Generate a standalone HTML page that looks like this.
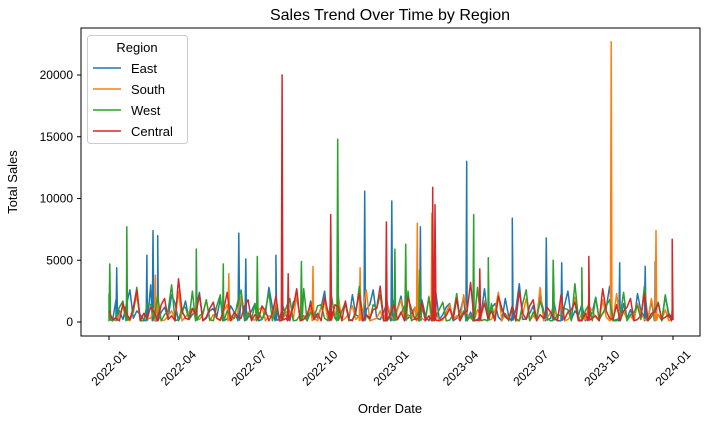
<!DOCTYPE html>
<html><head><meta charset="utf-8"><style>
body{margin:0;background:#fff;}
svg{display:block;font-family:"Liberation Sans","DejaVu Sans",sans-serif;}
</style></head><body>
<svg id="chart" width="722" height="421" xmlns="http://www.w3.org/2000/svg">
<rect width="722" height="421" fill="#fff"/>
<text x="390" y="20" text-anchor="middle" font-size="16">Sales Trend Over Time by Region</text>
<g id="plot"></g>
<rect x="81" y="28" width="619" height="308" fill="none" stroke="#000" stroke-width="1"/>
<g id="xaxis"></g>
<g id="yaxis"></g>
<text x="390" y="413" text-anchor="middle" font-size="13">Order Date</text>
<text x="17" y="182" text-anchor="middle" font-size="13" transform="rotate(-90 17 182)">Total Sales</text>
<g id="legend"></g>
</svg>
<script>
const seriesNames = ["East","South","West","Central"];
const seriesColors = ["#1f77b4","#ff7f0e","#2ca02c","#d62728"];
const baseStep = 9;
const eastBase = [300,1800,200,2600,900,150,3000,400,1200,2200,100,1700,600,2400,300,1100,1900,250,800,2100,400,1500,200,2800,700,1300,100,2000,500,1700,300,2500,900,150,1400,2200,400,1000,2600,200,1600,700,2100,300,1200,1800,100,2400,600,1500,300,2000,800,200,2700,1100,400,1900,700,3100,250,1300,2200,500,1600,100,2500,900,1400,300,2000,700,2900,200,1500,1000,2300,400,1700,600,2100,300];
const eastMid = [100,900,1400,300,600,2000,100,800,300,1500,700,200,1100,100,900,400,100,1300,200,600,900,100,700,1200,200,500,1600,300,100,800,1200,100,400,900,200,600,100,1400,300,800,100,1100,200,700,100,500,900,200,1200,100,800,300,100,600,200,1500,100,400,1000,200,700,100,900,300,100,1300,200,500,100,800,200,1100,100,600,300,100,900,200,500,100,700];
const southBase = [500,200,1200,100,2200,700,300,1500,150,900,2500,400,1100,200,1800,600,100,1400,300,2000,800,150,1200,500,1700,250,900,2300,400,1100,100,1600,700,2000,300,1300,500,2600,200,900,1500,100,1800,600,1200,300,2100,800,150,1400,500,2200,300,1000,1700,200,2400,700,1300,100,1900,500,2800,300,1100,1600,200,2000,700,1300,400,1800,100,2300,900,500,1500,200,1900,600,1000,300];
const southMid = [100,600,200,900,100,300,1100,100,500,200,100,800,200,600,100,300,900,100,700,100,200,1000,100,400,100,800,200,100,600,300,1200,100,400,100,700,200,900,100,300,100,600,1000,100,200,500,100,300,100,800,200,100,700,100,400,200,900,100,300,100,600,100,200,100,800,300,100,500,100,200,900,100,400,100,300,200,100,700,100,300,200,100];
const westBase = [2300,400,1700,300,2800,100,1400,2100,600,3000,200,1200,2500,500,1800,100,2200,900,300,2600,700,1500,200,2400,1100,400,1900,150,2700,800,1300,300,2100,600,1600,200,2900,500,1400,2200,100,1800,700,2500,300,1200,2000,400,1600,150,2300,900,500,2800,200,1500,2100,600,1300,100,2600,800,1700,300,2200,500,1000,3100,200,1400,2000,700,1800,100,2400,600,1300,2900,400,1600,2200,300];
const westMid = [100,1200,200,800,100,1500,300,100,900,100,1100,200,100,700,200,1300,100,500,1600,100,200,800,1000,100,300,1200,100,600,100,400,1400,100,300,900,100,700,100,200,1100,100,500,200,1300,100,800,200,100,1000,100,600,200,100,1200,100,400,200,900,100,300,1500,100,200,800,100,600,1100,100,300,900,100,200,1300,100,500,100,800,200,100,1000,100,400];
const centralBase = [900,300,1500,200,2600,700,1200,100,1900,500,3500,300,1100,2200,400,1600,150,2400,800,300,1800,600,1300,100,2100,900,400,2700,200,1500,700,2000,300,1200,1700,100,2300,600,1000,2900,300,1400,800,2000,200,1600,500,2400,300,1100,1900,700,3200,150,1500,900,2100,400,1300,2500,200,1800,600,1200,300,2200,800,1600,100,2000,500,2700,300,1400,900,1900,200,2300,700,1500,400,1100];
const centralMid = [200,100,700,1200,100,300,800,1400,200,100,900,200,600,100,1100,300,1000,100,400,1300,100,200,900,700,100,300,1200,100,600,200,100,800,1400,100,200,900,100,300,1100,100,700,200,100,1000,300,100,1200,100,500,200,100,900,100,600,300,100,1100,200,100,700,1300,100,300,800,100,200,1000,100,700,300,100,900,200,100,1200,100,500,100,800,200,600];
const eastSpikeDays = [10,49,57,63,168,177,216,331,366,403,463,522,566,586,661,694,707];
const eastSpikeVals = [4400,5400,7400,7000,7200,5100,5400,10600,9800,7700,13000,8400,6800,4800,4800,4500,4900];
const southSpikeDays = [60,155,264,325,399,418,650,708];
const southSpikeVals = [3800,3900,4500,4400,8000,8800,22700,7400];
const westSpikeDays = [1,23,113,148,192,249,296,370,384,402,472,491,575,612];
const westSpikeVals = [4700,7700,5900,4700,5300,4900,14800,5900,6300,4200,8700,5200,5000,4400];
const centralSpikeDays = [224,232,287,359,419,422,480,621,729];
const centralSpikeVals = [20000,3900,8700,8100,10900,9500,4300,5300,6700];
const yTicks = [0,5000,10000,15000,20000];
const xTickDays = [0,90,181,273,365,455,546,638,730];
const xTickLabels = ["2022-01","2022-04","2022-07","2022-10","2023-01","2023-04","2023-07","2023-10","2024-01"];

const NS="http://www.w3.org/2000/svg";
const xS = d => 109 + d*(564/730);
const yS = v => 322 - v*(247/20000);
function mk(tag, attrs, parent){const e=document.createElementNS(NS,tag);for(const k in attrs)e.setAttribute(k,attrs[k]);parent.appendChild(e);return e;}

const bases=[eastBase,southBase,westBase,centralBase];
const mids=[eastMid,southMid,westMid,centralMid];
const sDays=[eastSpikeDays,southSpikeDays,westSpikeDays,centralSpikeDays];
const sVals=[eastSpikeVals,southSpikeVals,westSpikeVals,centralSpikeVals];
const plot=document.getElementById('plot');
for(let s=0;s<4;s++){
  const pts=[];
  bases[s].forEach((v,i)=>{const d=i*baseStep; if(d<=730) pts.push([d,v]);});
  mids[s].forEach((v,i)=>{const d=i*baseStep+4.5; if(d<=730) pts.push([d,v]);});
  sDays[s].forEach((d,i)=>{pts.push([d-1,100]);pts.push([d,sVals[s][i]]);pts.push([d+1,150]);});
  pts.sort((a,b)=>a[0]-b[0]);
  const dstr=pts.map((p,i)=>(i?'L':'M')+xS(p[0]).toFixed(1)+' '+yS(p[1]).toFixed(1)).join(' ');
  const p=mk('path',{d:dstr,fill:'none',stroke:seriesColors[s],'stroke-width':1.5,'stroke-linejoin':'round'},plot);
  
  
}
const xa=document.getElementById('xaxis');
xTickDays.forEach((d,i)=>{
  const x=xS(d);
  const t=mk('line',{x1:x,x2:x,y1:336,y2:340,stroke:'#000'},xa);
  
  
  const lb=mk('text',{x:x,y:372,'text-anchor':'middle','font-size':12,transform:`rotate(-45 ${x} 368)`},xa);
  lb.textContent=xTickLabels[i];
  
  
});
const ya=document.getElementById('yaxis');
yTicks.forEach(v=>{
  const y=yS(v);
  const t=mk('line',{x1:77,x2:81,y1:y,y2:y,stroke:'#000'},ya);
  
  
  const lb=mk('text',{x:73,y:y+4,'text-anchor':'end','font-size':12},ya);
  lb.textContent=String(v);
  
  
});
const lg=document.getElementById('legend');
const box=mk('rect',{x:87.5,y:35.5,width:100,height:108,rx:3,fill:'#fff','fill-opacity':0.8,stroke:'#ccc'},lg);


const lt=mk('text',{x:137,y:52,'text-anchor':'middle','font-size':13},lg);
lt.textContent='Region';


seriesNames.forEach((n,i)=>{
  const y=68+i*21;
  const g=mk('g',{},lg);
  
  
  mk('line',{x1:93,x2:121,y1:y,y2:y,stroke:seriesColors[i],'stroke-width':1.5},g);
  const tx=mk('text',{x:131,y:y+5,'font-size':13},g);
  tx.textContent=n;
});
</script>
</body></html>
